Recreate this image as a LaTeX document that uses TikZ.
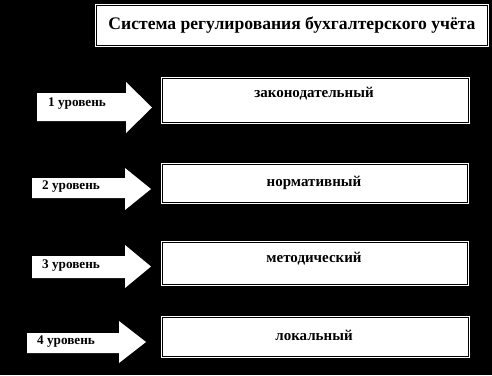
\documentclass[tikz,border=0pt]{standalone}
\usepackage{fontspec}
\setmainfont{Liberation Serif}
\begin{document}
\begin{tikzpicture}[x=1pt,y=-1pt,
  frame/.style={draw=white, line width=0.9pt, double=black, double distance=1.3pt, fill=white, inner sep=0pt, anchor=north west},
  boxtext/.style={font=\bfseries\fontsize{15}{17}\selectfont, text=black, inner sep=0pt},
  titletext/.style={font=\bfseries\fontsize{17.6}{20}\selectfont, text=black, inner sep=0pt},
  arrowtext/.style={font=\bfseries\fontsize{13.2}{15}\selectfont, text=black, inner sep=0pt, anchor=west},
  lvlarrow/.style={fill=white, draw=none}]
\fill[black] (0,0) rectangle (492,375);
\useasboundingbox (0,0) rectangle (492,375);
% title
\node[frame, minimum width=391pt, minimum height=40pt] (title) at (96,5) {};
\node[titletext] (titlet) at (292,25) {Система регулирования бухгалтерского учёта};
% boxes
\node[frame, minimum width=306pt, minimum height=44pt] (b1) at (162,78) {};
\node[boxtext] (t1) at (314,94) {законодательный};
\node[frame, minimum width=305pt, minimum height=38pt] (b2) at (162,164) {};
\node[boxtext] (t2) at (314,183) {нормативный};
\node[frame, minimum width=305pt, minimum height=42pt] (b3) at (162,242) {};
\node[boxtext] (t3) at (314,259) {методический};
\node[frame, minimum width=306pt, minimum height=39pt] (b4) at (162,317) {};
\node[boxtext] (t4) at (314,335) {локальный};
% arrows
\fill[lvlarrow] (37,93) -- (126,93) -- (126,82) -- (152,107.5) -- (126,133) -- (126,121) -- (37,121) -- cycle;
\node[arrowtext] (a1) at (48,104) {1 уровень};
\fill[lvlarrow] (32,178) -- (125,178) -- (125,168) -- (151,189) -- (125,210) -- (125,198) -- (32,198) -- cycle;
\node[arrowtext] (a2) at (42,187) {2 уровень};
\fill[lvlarrow] (32,256) -- (125,256) -- (125,245) -- (151,266.5) -- (125,288) -- (125,278) -- (32,278) -- cycle;
\node[arrowtext] (a3) at (42,266) {3 уровень};
\fill[lvlarrow] (27,333) -- (119,333) -- (119,321) -- (146,342) -- (119,363) -- (119,353) -- (27,353) -- cycle;
\node[arrowtext] (a4) at (37,342) {4 уровень};
\end{tikzpicture}
\end{document}
